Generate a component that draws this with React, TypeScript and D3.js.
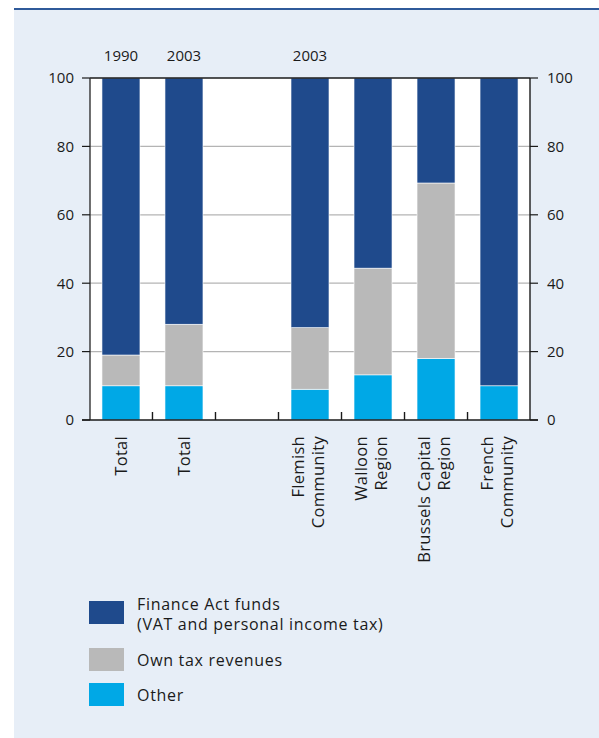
import React from "react";
import * as d3 from "d3";

const categoryKeys = ["total1990", "total2003", "gap", "flemish", "walloon", "brussels", "french"];
const categoryLabels: string[][] = [
  ["Total"],
  ["Total"],
  [],
  ["Flemish", "Community"],
  ["Walloon", "Region"],
  ["Brussels Capital", "Region"],
  ["French", "Community"],
];
const yearLabels = ["1990", "2003", "", "2003", "", "", ""];
const otherValues = [10, 10, 0, 9, 13.2, 18, 10];
const ownTaxValues = [9, 18, 0, 18, 31.2, 51.3, 0];
const financeActValues = [81, 72, 0, 73, 55.6, 30.7, 90];
const seriesNames = ["Other", "Own tax revenues", "Finance Act funds"];
const seriesColors = ["#00a8e6", "#b9b9b9", "#1f4a8c"];
const legendLabels: string[][] = [
  ["Finance Act funds", "(VAT and personal income tax)"],
  ["Own tax revenues"],
  ["Other"],
];
const legendColors = ["#1f4a8c", "#b9b9b9", "#00a8e6"];
const yTicks = [0, 20, 40, 60, 80, 100];

const W = 599;
const H = 738;
const FONT = "'Open Sans', 'Noto Sans', sans-serif";

export default function App() {
  const x = d3
    .scaleBand<string>()
    .domain(categoryKeys)
    .range([90, 530])
    .paddingInner(0.397)
    .paddingOuter(0.19);
  const y = d3.scaleLinear().domain([0, 100]).range([420, 78]);

  const rows = categoryKeys.map((k, i) => ({
    key: k,
    Other: otherValues[i],
    "Own tax revenues": ownTaxValues[i],
    "Finance Act funds": financeActValues[i],
  }));
  const stacked = d3.stack<any>().keys(seriesNames)(rows);

  const step = x.step();
  const bw = x.bandwidth();
  const gapHalf = (step - bw) / 2;
  const sepTicks = categoryKeys.slice(1).map((k) => (x(k) as number) - gapHalf);

  const [x0, x1] = x.range();

  return (
    <div style={{ position: "absolute", left: 0, top: 0 }}>
      <svg width={W} height={H} style={{ display: "block" }} fontFamily={FONT}>
        <rect x={0} y={0} width={W} height={H} fill="#ffffff" />
        <rect x={14} y={9} width={W - 14} height={H - 9} fill="#e7eef7" />
        <line x1={14} x2={W} y1={9} y2={9} stroke="#2f5a9a" strokeWidth={2} />

        {/* plot background */}
        <rect x={x0} y={y(100)} width={x1 - x0} height={y(0) - y(100)} fill="#ffffff" />

        {/* gridlines */}
        {yTicks
          .filter((t) => t > 0 && t < 100)
          .map((t) => (
            <line key={"g" + t} x1={x0} x2={x1} y1={y(t)} y2={y(t)} stroke="#b4b4b4" strokeWidth={1.2} />
          ))}

        {/* bars */}
        {stacked.map((s, si) =>
          s.map((d, i) => {
            const h = y(d[0]) - y(d[1]);
            if (h <= 0) return null;
            return (
              <rect
                key={seriesNames[si] + i}
                x={x(categoryKeys[i])}
                y={y(d[1])}
                width={bw}
                height={h}
                fill={seriesColors[si]}
                stroke="#ffffff"
                strokeWidth={0.6}
              />
            );
          })
        )}

        {/* frame */}
        <line x1={x0} x2={x1} y1={y(100)} y2={y(100)} stroke="#1a1a1a" strokeWidth={1.4} />
        <line x1={x0} x2={x0} y1={y(100)} y2={y(0)} stroke="#333333" strokeWidth={1.4} />
        <line x1={x1} x2={x1} y1={y(100)} y2={y(0)} stroke="#1a1a1a" strokeWidth={1.4} />
        <line x1={x0 - 8} x2={x1 + 8} y1={y(0)} y2={y(0)} stroke="#1a1a1a" strokeWidth={1.6} />

        {/* y ticks */}
        {yTicks.map((t) => (
          <g key={"t" + t}>
            <line x1={x0 - 8} x2={x0} y1={y(t)} y2={y(t)} stroke="#1a1a1a" strokeWidth={1.2} />
            <line x1={x1} x2={x1 + 8} y1={y(t)} y2={y(t)} stroke="#1a1a1a" strokeWidth={1.2} />
            <text x={x0 - 16} y={y(t) + 5.3} textAnchor="end" fontSize={15} fill="#1a1a1a">
              {t}
            </text>
            <text x={x1 + 17} y={y(t) + 5.3} textAnchor="start" fontSize={15} fill="#1a1a1a">
              {t}
            </text>
          </g>
        ))}

        {/* category separator ticks */}
        {sepTicks.map((sx, i) => (
          <line key={"s" + i} x1={sx} x2={sx} y1={y(0)} y2={y(0) - 8} stroke="#1a1a1a" strokeWidth={1.4} />
        ))}

        {/* year labels */}
        {yearLabels.map((yl, i) =>
          yl ? (
            <text
              key={"y" + i}
              x={(x(categoryKeys[i]) as number) + bw / 2}
              y={61}
              textAnchor="middle"
              fontSize={15}
              fill="#1a1a1a"
            >
              {yl}
            </text>
          ) : null
        )}

        {/* category labels */}
        {categoryLabels.map((lines, i) => {
          const cx = (x(categoryKeys[i]) as number) + bw / 2;
          const offsets = lines.length === 1 ? [6.5] : [-6, 13.5];
          return lines.map((ln, li) => (
            <text
              key={"c" + i + "-" + li}
              transform={`translate(${cx + offsets[li]},436) rotate(-90)`}
              textAnchor="end"
              fontSize={16.5}
              letterSpacing={0.3}
              fill="#1a1a1a"
            >
              {ln}
            </text>
          ));
        })}

        {/* legend */}
        {legendLabels.map((lines, i) => {
          const tops = [601, 648, 683];
          const baselines = [[609.5, 630], [666], [701]];
          return (
            <g key={"l" + i}>
              <rect x={89} y={tops[i]} width={35} height={23} fill={legendColors[i]} />
              {lines.map((ln, li) => (
                <text key={li} x={137} y={baselines[i][li]} fontSize={16} letterSpacing={0.7} fill="#1a1a1a">
                  {ln}
                </text>
              ))}
            </g>
          );
        })}
      </svg>
    </div>
  );
}
